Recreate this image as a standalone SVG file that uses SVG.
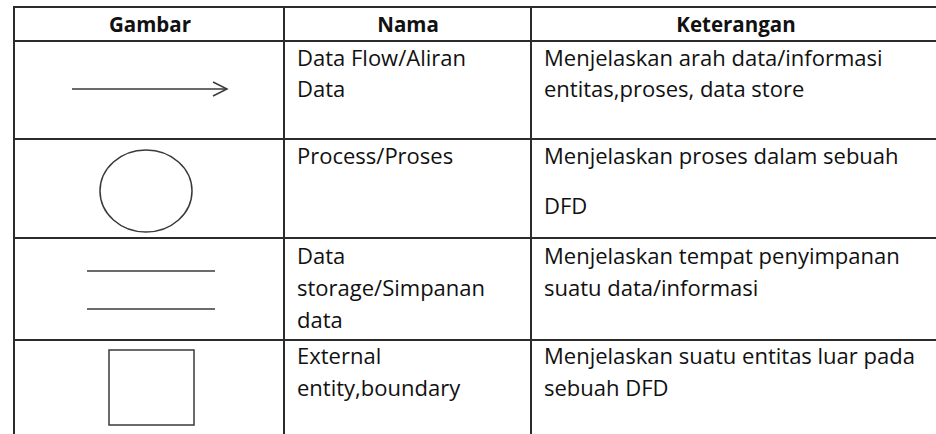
<svg xmlns="http://www.w3.org/2000/svg" width="936" height="434" viewBox="0 0 936 434">
<style>
.grid{stroke:#2b2b2b;stroke-width:2;fill:none}
.shape{stroke:#3a3a3a;stroke-width:1.5;fill:none}
.t{font-family:"Open Sans","Liberation Sans",Arial,sans-serif;font-size:22px;fill:#111}
.h{font-family:"Open Sans","Liberation Sans",Arial,sans-serif;font-size:20.5px;font-weight:bold;fill:#111;text-anchor:middle}
</style>
<rect width="936" height="434" fill="#fff"/>
<g id="table">
<line class="grid" x1="13" y1="7" x2="936" y2="7"/>
<line class="grid" x1="13" y1="41" x2="936" y2="41"/>
<line class="grid" x1="13" y1="139" x2="936" y2="139"/>
<line class="grid" x1="13" y1="238" x2="936" y2="238"/>
<line class="grid" x1="13" y1="340" x2="936" y2="340"/>
<line class="grid" x1="14" y1="6" x2="14" y2="434"/>
<line class="grid" x1="284" y1="6" x2="284" y2="434"/>
<line class="grid" x1="531" y1="6" x2="531" y2="434"/>
<text class="h" x="150" y="32">Gambar</text>
<text class="h" x="408" y="32">Nama</text>
<text class="h" x="736" y="32">Keterangan</text>
</g>
<g id="row-dataflow">
<line class="shape" x1="72" y1="89" x2="227" y2="89"/>
<polyline class="shape" points="213,82 227,89 213,96"/>
<text class="t" x="297" y="66">Data Flow/Aliran</text>
<text class="t" x="297" y="97">Data</text>
<text class="t" x="544" y="66">Menjelaskan arah data/informasi</text>
<text class="t" x="544" y="97">entitas,proses, data store</text>
</g>
<g id="row-process">
<ellipse class="shape" cx="146" cy="191" rx="46" ry="41"/>
<text class="t" x="297" y="164">Process/Proses</text>
<text class="t" x="544" y="164">Menjelaskan proses dalam sebuah</text>
<text class="t" x="544" y="214">DFD</text>
</g>
<g id="row-storage">
<line class="shape" x1="87" y1="271" x2="215" y2="271"/>
<line class="shape" x1="87" y1="309" x2="215" y2="309"/>
<text class="t" x="297" y="264">Data</text>
<text class="t" x="297" y="296">storage/Simpanan</text>
<text class="t" x="297" y="328">data</text>
<text class="t" x="544" y="264">Menjelaskan tempat penyimpanan</text>
<text class="t" x="544" y="296">suatu data/informasi</text>
</g>
<g id="row-entity">
<rect class="shape" x="109" y="350" width="85" height="75"/>
<text class="t" x="297" y="364">External</text>
<text class="t" x="297" y="396">entity,boundary</text>
<text class="t" x="544" y="364">Menjelaskan suatu entitas luar pada</text>
<text class="t" x="544" y="396">sebuah DFD</text>
</g>
</svg>
